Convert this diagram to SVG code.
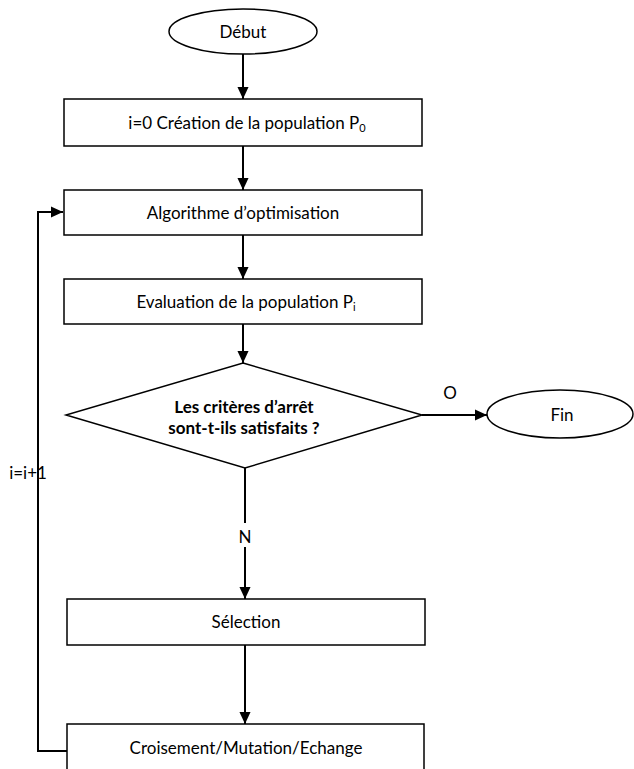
<svg xmlns="http://www.w3.org/2000/svg" width="634" height="769" viewBox="0 0 634 769">
<defs>
<marker id="ah" markerWidth="12" markerHeight="13" viewBox="0 0 13 12" refX="13" refY="6" orient="auto" markerUnits="userSpaceOnUse">
<path d="M0,0 L13,6 L0,12 Z" fill="#000"/>
</marker>
<style>
.n{fill:#fff;stroke:#000;stroke-width:1.5}
.t{font-family:Lato,"Open Sans",sans-serif;font-size:17px;fill:#000;text-anchor:middle}
.b{font-weight:bold}
.c{fill:none;stroke:#000;stroke-width:2}
.sub{font-size:11px}
</style>
</defs>
<rect width="634" height="769" fill="#fff"/>
<g id="connectors">
<line class="c" x1="243" y1="54" x2="243" y2="99" marker-end="url(#ah)"/>
<line class="c" x1="243" y1="146" x2="243" y2="190" marker-end="url(#ah)"/>
<line class="c" x1="243" y1="235" x2="243" y2="279" marker-end="url(#ah)"/>
<line class="c" x1="243" y1="324" x2="243" y2="363" marker-end="url(#ah)"/>
<line class="c" x1="422" y1="415" x2="487" y2="415" marker-end="url(#ah)"/>
<line class="c" x1="245" y1="468" x2="245" y2="523"/>
<line class="c" x1="245" y1="547" x2="245" y2="599" marker-end="url(#ah)"/>
<line class="c" x1="245" y1="645" x2="245" y2="724" marker-end="url(#ah)"/>
<polyline class="c" points="67,751 38,751 38,212 63,212" marker-end="url(#ah)"/>
<text class="t" x="450" y="399">O</text>
<text class="t" x="245" y="543">N</text>
<text class="t" x="28" y="479">i=i+1</text>
</g>
<g id="debut">
<ellipse class="n" cx="243" cy="31.5" rx="74" ry="22.5"/>
<text class="t" x="243" y="38">Début</text>
</g>
<g id="creation">
<rect class="n" x="64" y="99" width="358" height="47"/>
<text class="t" x="247" y="129">i=0 Création de la population P<tspan class="sub" dy="3">0</tspan></text>
</g>
<g id="algorithme">
<rect class="n" x="64" y="190" width="358" height="45"/>
<text class="t" x="243" y="219">Algorithme d’optimisation</text>
</g>
<g id="evaluation">
<rect class="n" x="64" y="279" width="358" height="45"/>
<text class="t" x="246" y="308">Evaluation de la population P<tspan class="sub" dy="3">i</tspan></text>
</g>
<g id="criteres">
<polygon class="n" points="243,363 422,415 245,468 66,415"/>
<text class="t b" x="244" y="413">Les critères d’arrêt</text>
<text class="t b" x="244" y="434">sont-t-ils satisfaits ?</text>
</g>
<g id="fin">
<ellipse class="n" cx="560" cy="414" rx="73" ry="24"/>
<text class="t" x="562" y="421">Fin</text>
</g>
<g id="selection">
<rect class="n" x="67" y="599" width="358" height="46"/>
<text class="t" x="246" y="628">Sélection</text>
</g>
<g id="croisement">
<rect class="n" x="67" y="724" width="357" height="60"/>
<text class="t" x="246" y="754">Croisement/Mutation/Echange</text>
</g>
</svg>
